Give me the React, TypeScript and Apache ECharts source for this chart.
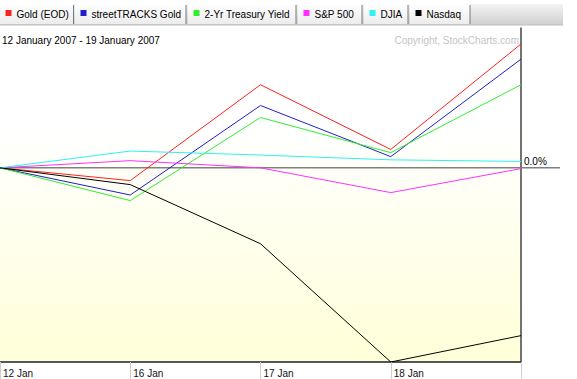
import React, { useEffect, useRef } from "react";
import * as echarts from "echarts";

const categories = ["12 Jan", "16 Jan", "17 Jan", "18 Jan", "19 Jan"];
const seriesNames = ["Gold (EOD)", "streetTRACKS Gold", "2-Yr Treasury Yield", "S&P 500", "DJIA", "Nasdaq"];
const goldEod = [0, -0.16, 1.04, 0.23, 1.55];
const streetTracks = [0, -0.34, 0.78, 0.14, 1.36];
const treasury2y = [0, -0.41, 0.63, 0.19, 1.04];
const sp500 = [0, 0.09, 0, -0.31, -0.01];
const djia = [0, 0.21, 0.16, 0.1, 0.08];
const nasdaq = [0, -0.21, -0.95, -2.43, -2.1];
const zeroLabel = "0.0%";
const titleText = "12 January 2007 - 19 January 2007";
const copyrightText = "Copyright, StockCharts.com";

const colors = ["#ff2020", "#2020c8", "#30ee30", "#ff30ff", "#30f0f0", "#000000"];
const FONT = "Liberation Sans, Arial, sans-serif";

export default function App() {
  const ref = useRef<HTMLDivElement>(null);
  useEffect(() => {
    document.body.style.margin = "0";
    const chart = echarts.init(ref.current!, null, { renderer: "svg" });
    const allData = [goldEod, streetTracks, treasury2y, sp500, djia, nasdaq];
    const tabBounds = [
      [0, 73.5],
      [75, 186],
      [188, 296],
      [298, 362],
      [364, 408],
      [410, 470],
    ];
    const tabs: any[] = [];
    tabs.push({
      type: "rect",
      shape: { x: 0, y: 4, width: 563, height: 21 },
      style: {
        fill: new echarts.graphic.LinearGradient(0, 0, 0, 1, [
          { offset: 0, color: "#f4f4f4" },
          { offset: 1, color: "#cfcfcf" },
        ]),
      },
      z: 1,
    });
    seriesNames.forEach((n, i) => {
      const [x0, x1] = tabBounds[i];
      tabs.push({
        type: "rect",
        shape: { x: x0, y: 4, width: x1 - x0, height: 20 },
        style: {
          fill: new echarts.graphic.LinearGradient(0, 0, 0, 1, [
            { offset: 0, color: "#ffffff" },
            { offset: 1, color: "#ececec" },
          ]),
        },
        z: 2,
      });
      tabs.push({
        type: "line",
        shape: { x1: x1, y1: 5, x2: x1, y2: 24 },
        style: { stroke: "#7a7a7a", lineWidth: 1 },
        z: 3,
      });
      tabs.push({
        type: "rect",
        shape: { x: x0 + 5.5, y: 10, width: 6, height: 6 },
        style: { fill: colors[i] },
        z: 3,
      });
      tabs.push({
        type: "text",
        x: x0 + 16.5,
        y: 14,
        style: { text: n, fill: "#000", font: `10px ${FONT}`, verticalAlign: "middle" },
        z: 3,
      });
    });
    tabs.push({
      type: "line",
      shape: { x1: 0, y1: 25, x2: 563, y2: 25 },
      style: { stroke: "#bdbdbd", lineWidth: 1 },
      z: 3,
    });
    tabs.push({
      type: "text",
      x: 2,
      y: 40,
      style: { text: titleText, fill: "#000", font: `10px ${FONT}`, verticalAlign: "middle" },
      z: 3,
    });
    tabs.push({
      type: "text",
      x: 519,
      y: 40,
      style: { text: copyrightText, fill: "#c4c4c4", font: `10px ${FONT}`, verticalAlign: "middle", align: "right" },
      z: 3,
    });

    chart.setOption({
      animation: false,
      grid: {
        left: 0,
        right: 56,
        top: 28,
        bottom: 17,
        show: true,
        borderWidth: 0,
        backgroundColor: new echarts.graphic.LinearGradient(0, 0, 0, 1, [
          { offset: 0, color: "#ffffff" },
          { offset: 0.3, color: "#ffffff" },
          { offset: 1, color: "#ffffd8" },
        ]),
      },
      xAxis: {
        type: "category",
        data: categories,
        boundaryGap: false,
        position: "bottom",
        axisLine: { onZero: false, lineStyle: { color: "#555", width: 2 } },
        axisTick: { show: true, length: 17, lineStyle: { color: "#d0d0d0" } },
        axisLabel: {
          color: "#111",
          fontSize: 10,
          fontFamily: FONT,
          align: "left",
          margin: 6,
          padding: [0, 0, 0, 3],
          formatter: (v: string, i: number) => (i === categories.length - 1 ? "" : v),
        },
        splitLine: { show: false },
      },
      yAxis: {
        type: "value",
        min: -2.43,
        max: 1.75,
        position: "right",
        axisLine: { show: true, lineStyle: { color: "#444", width: 1.5 } },
        axisTick: { show: false },
        axisLabel: { show: false },
        splitLine: { show: false },
      },
      series: allData.map((d, i) => ({
        name: seriesNames[i],
        type: "line",
        data: d,
        symbol: "none",
        lineStyle: { color: colors[i], width: 1 },
        z: 3,
      })),
      graphic: tabs,
    });

    const y0 = chart.convertToPixel({ yAxisIndex: 0 }, 0) as number;
    chart.setOption({
      graphic: [
        ...tabs,
        {
          type: "line",
          shape: { x1: 0, y1: y0, x2: 560, y2: y0 },
          style: { stroke: "#808080", lineWidth: 1.5 },
          z: 1,
        },
        {
          type: "text",
          x: 524,
          y: y0 - 6,
          style: { text: zeroLabel, fill: "#000", font: `10px ${FONT}`, verticalAlign: "middle" },
          z: 3,
        },
      ],
    });
    return () => chart.dispose();
  }, []);
  return <div ref={ref} style={{ width: 577, height: 379 }} />;
}
